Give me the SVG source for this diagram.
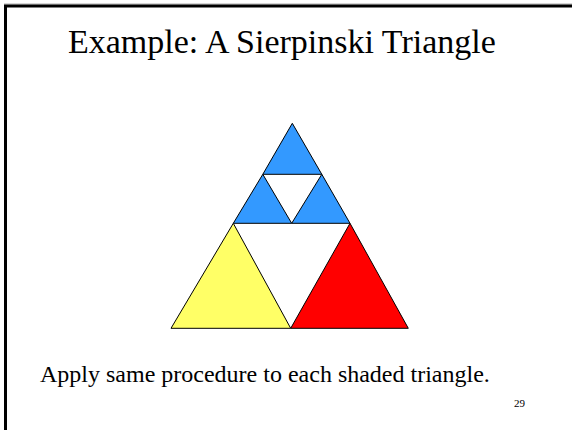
<svg xmlns="http://www.w3.org/2000/svg" width="572" height="430" viewBox="0 0 572 430">
<style>
.t{stroke:#000;stroke-width:1;stroke-linejoin:miter}
.blue{fill:#3399FF}
.yellow{fill:#FFFF66}
.red{fill:#FF0000}
.txt{font-family:"Liberation Serif","Times New Roman",serif;fill:#000}
</style>
<rect x="0" y="0" width="572" height="430" fill="#fff"/>
<g id="frame">
<line x1="4" y1="4" x2="572" y2="4" stroke="#aaa" stroke-width="1"/>
<path d="M5.5,430 V6 H572" fill="none" stroke="#000" stroke-width="3"/>
</g>
<text id="title" class="txt" x="68" y="53" font-size="34">Example: A Sierpinski Triangle</text>
<g id="sierpinski">
<polygon id="yellow" class="t yellow" points="171,328.3 290.7,328.3 233.3,223.3"/>
<polygon id="red" class="t red" points="290.7,328.3 408.3,328.3 350,223.3"/>
<polygon id="blue-top" class="t blue" points="292.3,123.3 262.8,174.3 321.8,174.3"/>
<polygon id="blue-left" class="t blue" points="262.8,174.3 233.3,223.3 291.7,223.3"/>
<polygon id="blue-right" class="t blue" points="321.8,174.3 291.7,223.3 350,223.3"/>
</g>
<text id="caption" class="txt" x="40" y="382" font-size="24">Apply same procedure to each shaded triangle.</text>
<text id="page" class="txt" x="514" y="407" font-size="11">29</text>
</svg>
